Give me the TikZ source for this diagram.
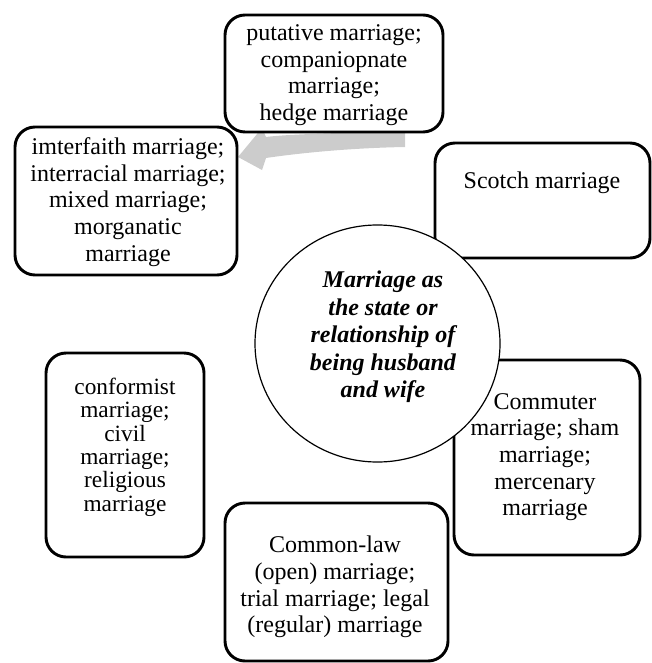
\documentclass[tikz,border=0pt]{standalone}
\usepackage{fontspec}
\setmainfont{Liberation Serif}
\usepackage{tikz}
\usetikzlibrary{shapes.geometric}

\definecolor{arrowgray}{RGB}{204,204,204}

\begin{document}
\begin{tikzpicture}[x=0.75pt,y=0.75pt,yscale=-1,xscale=1,
  box/.style={draw,line width=2.2pt,rounded corners=15pt,fill=white,inner sep=0pt},
  txt/.style={inner sep=0pt,align=center,font=\fontsize{18}{20}\selectfont},
  hub/.style={draw,ellipse,line width=0.9pt,fill=white,inner sep=0pt,minimum width=183.75pt,minimum height=177.75pt}]
\useasboundingbox (0,0) rectangle (651,663);

%Curved Arrow
\fill[arrowgray] (405,131) .. controls (340,133) and (290,134) .. (266,137) -- (262,128) -- (238,157) -- (262,170) -- (266,158) .. controls (300,153) and (350,148) .. (405,147) -- cycle;

%Rounded Rect
\node[box,minimum width=163.5pt,minimum height=87.75pt] (putative) at (334,73.5) {};
%Rounded Rect
\node[box,minimum width=166.5pt,minimum height=111pt] (interfaith) at (126,201) {};
%Rounded Rect
\node[box,minimum width=161.25pt,minimum height=86.25pt] (scotch) at (542.5,200.5) {};
%Rounded Rect
\node[box,minimum width=139.5pt,minimum height=146.25pt] (commuter) at (547,457.5) {};
%Rounded Rect
\node[box,minimum width=167.25pt,minimum height=118.5pt] (commonlaw) at (336.5,582) {};
%Rounded Rect
\node[box,minimum width=118.5pt,minimum height=153pt] (conformist) at (125,455) {};

%Ellipse
\node[hub] (hub) at (377.5,343.5) {};

% Text Node
\node[txt] (putativetxt) at (334,75) {putative marriage;\\companiopnate\\marriage;\\hedge marriage};
% Text Node
\node[txt] (interfaithtxt) at (128,202) {imterfaith marriage;\\interracial marriage;\\mixed marriage;\\morganatic\\marriage};
% Text Node
\node[txt] (scotchtxt) at (542,183) {Scotch marriage};
% Text Node
\node[txt] (commutertxt) at (545,457) {Commuter\\marriage; sham\\marriage;\\mercenary\\marriage};
% Text Node
\node[txt] (commonlawtxt) at (335,587) {Common-law\\(open) marriage;\\trial marriage;\ legal\\(regular) marriage};
% Text Node
\node[txt,font=\fontsize{17.5}{17.5}\selectfont] (conformisttxt) at (125,447) {conformist\\marriage;\\civil\\marriage;\\religious\\marriage};
% Text Node
\node[txt,font=\fontsize{18}{20.6}\selectfont\bfseries\itshape] (hubtxt) at (383,337) {Marriage as\\the state or\\relationship of\\being husband\\and wife};

\end{tikzpicture}
\end{document}
